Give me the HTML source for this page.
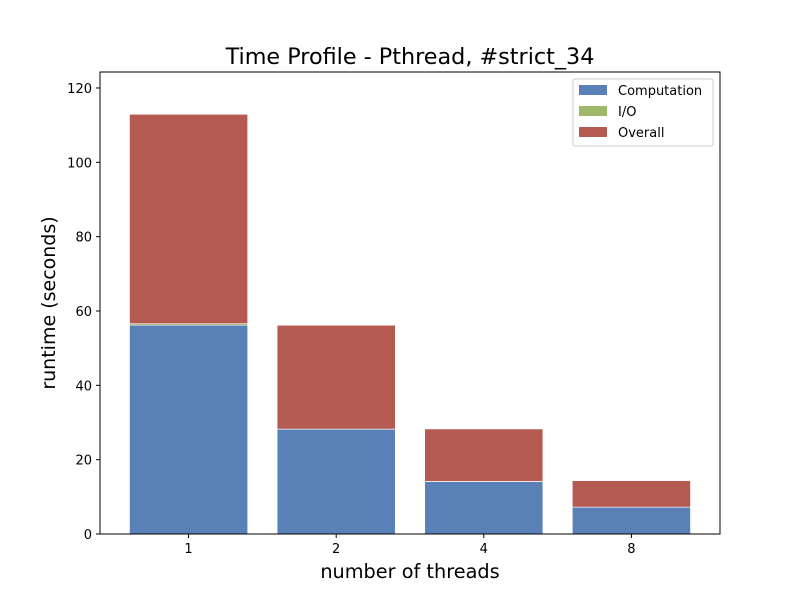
<!DOCTYPE html>
<html><head><meta charset="utf-8"><style>
body{margin:0;background:#fff}
svg text{font-family:"DejaVu Sans","Liberation Sans",sans-serif}
</style></head><body>
<svg id="c" width="800" height="600" xmlns="http://www.w3.org/2000/svg">
<rect width="800" height="600" fill="#fff"/>
<g id="bars"></g>
<rect x="100" y="72" width="620" height="462" fill="none" stroke="#000" stroke-width="1"/>
<g id="axes"></g>
<text x="410" y="64" text-anchor="middle" font-size="22.3">Time Profile - Pthread, #strict_34</text>
<text x="410" y="578" text-anchor="middle" font-size="19.3">number of threads</text>
<text transform="translate(55,303) rotate(-90)" text-anchor="middle" font-size="19">runtime (seconds)</text>
<g>
<rect x="573" y="79" width="140" height="67" fill="#fff" stroke="#ccc" rx="2"/>
<rect x="579" y="85" width="28" height="10" fill="#5a80b8"/>
<text x="618" y="95" font-size="13">Computation</text>
<rect x="579" y="106" width="28" height="10" fill="#a0b86a"/>
<text x="618" y="116" font-size="13">I/O</text>
<rect x="579" y="127" width="28" height="10" fill="#b45a50"/>
<text x="618" y="137" font-size="13">Overall</text>
</g>
</svg>
<script>
const categories=["1","2","4","8"];
const computation=[56.2,28.2,14.1,7.2];
const io=[0.4,0.05,0.05,0.05];
const overall=[56.3,27.9,14.1,7.1];
const yTicks=[0,20,40,60,80,100,120];
const NS="http://www.w3.org/2000/svg";
const x0=100,x1=720,yb=534,yt=72,ymax=124.3;
const y=v=>yb-v/ymax*(yb-yt);
const step=(x1-x0)/(categories.length+0.2);
const xc=i=>x0+step*(i+0.6);
const bw=step*0.8;
const bars=document.getElementById('bars'),axes=document.getElementById('axes');
function mk(tag,attrs,parent){const e=document.createElementNS(NS,tag);for(const k in attrs)e.setAttribute(k,attrs[k]);parent.appendChild(e);return e;}
categories.forEach((c,i)=>{
  let base=0;
  [[computation,'#5a80b8','computation'],[io,'#a0b86a','io'],[overall,'#b45a50','overall']].forEach(([arr,col,nm])=>{
    const v=arr[i];
    const r=mk('rect',{x:xc(i)-bw/2,y:y(base+v),width:bw,height:y(base)-y(base+v),fill:col,stroke:'#fff','stroke-width':0.5},bars);
    
    
    base+=v;
  });
  mk('line',{x1:xc(i),x2:xc(i),y1:yb,y2:yb+4,stroke:'#000'},axes);
  const t=mk('text',{x:xc(i),y:yb+19,'text-anchor':'middle','font-size':13},axes);
  t.textContent=c;
  
  
});
yTicks.forEach(v=>{
  mk('line',{x1:x0-4,x2:x0,y1:y(v),y2:y(v),stroke:'#000'},axes);
  const t=mk('text',{x:x0-8,y:y(v)+5,'text-anchor':'end','font-size':13},axes);
  t.textContent=v;
  
  
});
</script>
</body></html>
